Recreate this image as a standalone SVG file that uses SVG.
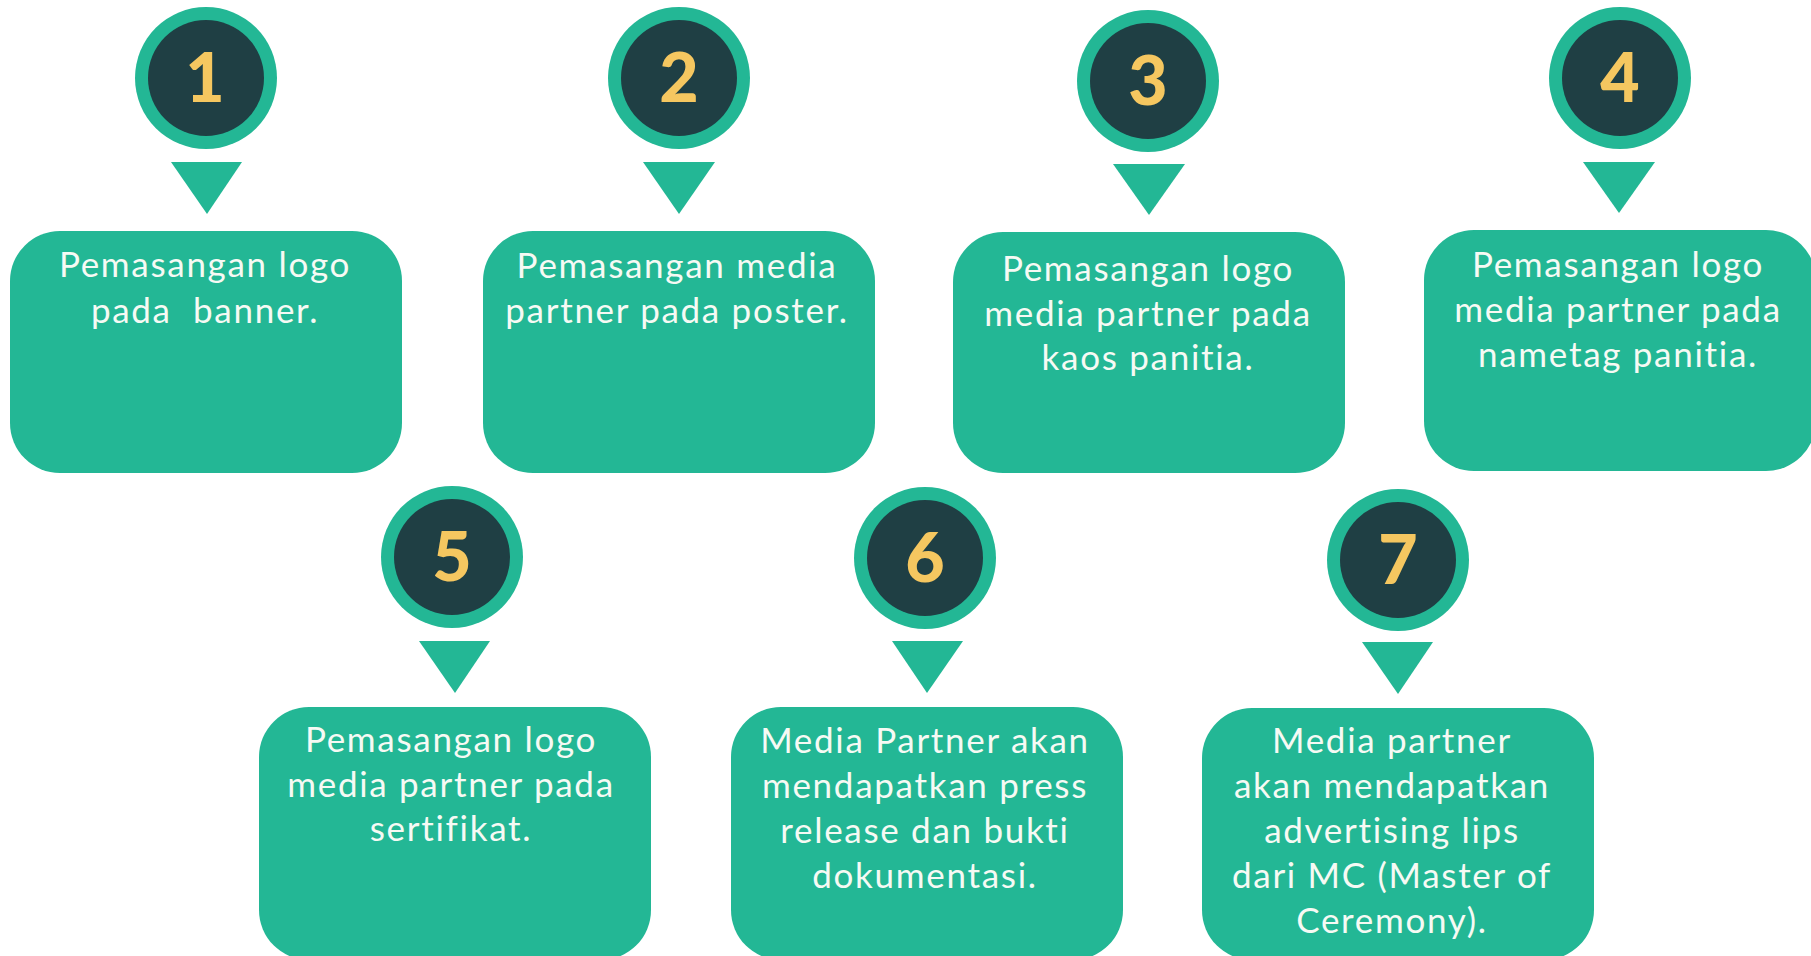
<svg xmlns="http://www.w3.org/2000/svg" width="1811" height="956" viewBox="0 0 1811 956">
<style>
.ring{fill:#23B795}
.core{fill:#1F3F44}
.num{fill:#F5C760;font-family:Lato,"Liberation Sans",sans-serif;font-weight:900;font-size:68px;text-anchor:middle}
.tri{fill:#23B795}
.box{fill:#23B795}
.lbl{fill:#F6FAF4;font-family:Lato,"Liberation Sans",sans-serif;font-size:35px;text-anchor:middle;letter-spacing:1.7px}
</style>
<rect width="1811" height="956" fill="#FFFFFF"/>
<g id="connectors">
<polygon class="tri" points="171,162 242,162 207,214"/>
<polygon class="tri" points="643,162 715,162 679,214"/>
<polygon class="tri" points="1113,164 1185,164 1149,215"/>
<polygon class="tri" points="1583,162 1655,162 1619,213"/>
<polygon class="tri" points="419,641 490,641 455,693"/>
<polygon class="tri" points="892,641 963,641 927,693"/>
<polygon class="tri" points="1362,642 1433,642 1398,694"/>
</g>
<g id="node1">
<circle class="ring" cx="206" cy="78" r="71"/><circle class="core" cx="206" cy="78" r="58"/>
<text class="num" x="205" y="102">1</text>
<rect class="box" x="10" y="231" width="392" height="242" rx="50"/>
<text class="lbl" x="205" y="277">Pemasangan logo</text>
<text class="lbl" x="205" y="323" xml:space="preserve">pada  banner.</text>
</g>
<g id="node2">
<circle class="ring" cx="679" cy="78" r="71"/><circle class="core" cx="679" cy="78" r="58"/>
<text class="num" x="679" y="102">2</text>
<rect class="box" x="483" y="231" width="392" height="242" rx="50"/>
<text class="lbl" x="677" y="278">Pemasangan media</text>
<text class="lbl" x="677" y="323">partner pada poster.</text>
</g>
<g id="node3">
<circle class="ring" cx="1148" cy="81" r="71"/><circle class="core" cx="1148" cy="81" r="58"/>
<text class="num" x="1148" y="105">3</text>
<rect class="box" x="953" y="232" width="392" height="241" rx="50"/>
<text class="lbl" x="1148" y="281">Pemasangan logo</text>
<text class="lbl" x="1148" y="326">media partner pada</text>
<text class="lbl" x="1148" y="370">kaos panitia.</text>
</g>
<g id="node4">
<circle class="ring" cx="1620" cy="78" r="71"/><circle class="core" cx="1620" cy="78" r="58"/>
<text class="num" x="1620" y="102">4</text>
<rect class="box" x="1424" y="230" width="392" height="241" rx="50"/>
<text class="lbl" x="1618" y="277">Pemasangan logo</text>
<text class="lbl" x="1618" y="322">media partner pada</text>
<text class="lbl" x="1618" y="367">nametag panitia.</text>
</g>
<g id="node5">
<circle class="ring" cx="452" cy="557" r="71"/><circle class="core" cx="452" cy="557" r="58"/>
<text class="num" x="452" y="581">5</text>
<rect class="box" x="259" y="707" width="392" height="253" rx="50"/>
<text class="lbl" x="451" y="752">Pemasangan logo</text>
<text class="lbl" x="451" y="797">media partner pada</text>
<text class="lbl" x="451" y="841">sertifikat.</text>
</g>
<g id="node6">
<circle class="ring" cx="925" cy="558" r="71"/><circle class="core" cx="925" cy="558" r="58"/>
<text class="num" x="925" y="582">6</text>
<rect class="box" x="731" y="707" width="392" height="253" rx="50"/>
<text class="lbl" x="925" y="753">Media Partner akan</text>
<text class="lbl" x="925" y="798">mendapatkan press</text>
<text class="lbl" x="925" y="843">release dan bukti</text>
<text class="lbl" x="925" y="888">dokumentasi.</text>
</g>
<g id="node7">
<circle class="ring" cx="1398" cy="560" r="71"/><circle class="core" cx="1398" cy="560" r="58"/>
<text class="num" x="1398" y="584">7</text>
<rect class="box" x="1202" y="708" width="392" height="252" rx="50"/>
<text class="lbl" x="1392" y="753">Media partner</text>
<text class="lbl" x="1392" y="798">akan mendapatkan</text>
<text class="lbl" x="1392" y="843">advertising lips</text>
<text class="lbl" x="1392" y="888">dari MC (Master of</text>
<text class="lbl" x="1392" y="933">Ceremony).</text>
</g>
</svg>
